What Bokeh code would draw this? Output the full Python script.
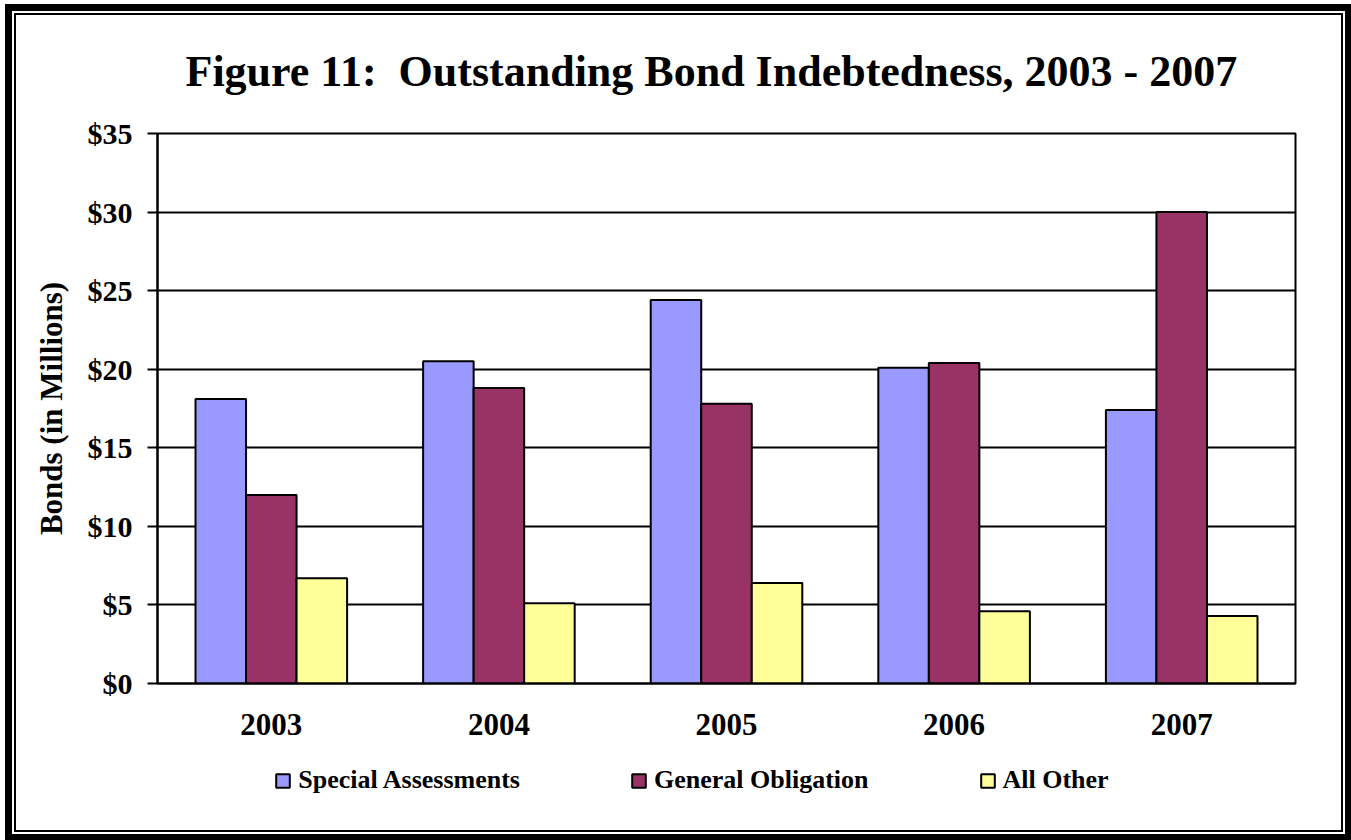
from bokeh.plotting import figure
from bokeh.layouts import column
from bokeh.models import (FactorRange, Range1d, FixedTicker, NumeralTickFormatter,
                          Legend, LegendItem, Label, ColumnDataSource)
from bokeh.transform import dodge
from bokeh.embed import file_html
from bokeh.resources import INLINE

# ---- data ----
years = ["2003", "2004", "2005", "2006", "2007"]
special_assessments = [18.1, 20.5, 24.4, 20.1, 17.4]
general_obligation = [12.0, 18.8, 17.8, 20.4, 30.0]
all_other = [6.7, 5.1, 6.4, 4.6, 4.3]
series_names = ["Special Assessments", "General Obligation", "All Other"]
y_ticks = [0, 5, 10, 15, 20, 25, 30, 35]
title_text = "Figure 11:\u00a0 Outstanding Bond Indebtedness, 2003 - 2007"
y_label = "Bonds (in Millions)"

# ---- layout: a column placed at page x=16, y=15 ----
W = 1325
H_TITLE, H_CHART, H_LEG = 90, 655, 70
FL, FR, FT, FB = 141, 46, 28, 77
FRAME_W = W - FL - FR
FONT = "Liberation Serif"
colors = ["#9999FF", "#993366", "#FFFF99"]
cols = ["sa", "go", "ao"]
bw = 0.222
offsets = [-bw, 0, bw]

src = ColumnDataSource(dict(year=years, sa=special_assessments,
                            go=general_obligation, ao=all_other))


def bare(height, x_range, y_range):
    f = figure(width=W, height=height, x_range=x_range, y_range=y_range,
               output_backend="svg", toolbar_location=None,
               x_axis_type=None, y_axis_type=None,
               min_border_left=FL, min_border_right=FR,
               min_border_top=0, min_border_bottom=0)
    f.title.visible = False
    f.outline_line_color = None
    f.xgrid.visible = False
    f.ygrid.visible = False
    f.background_fill_color = "white"
    f.border_fill_color = "white"
    return f


# ---- title strip ----
tf = bare(H_TITLE, Range1d(0, FRAME_W), Range1d(0, H_TITLE))
tf.add_layout(Label(x=28, y=34, text=title_text, text_font=FONT,
                    text_font_style="bold", text_font_size="44px",
                    text_color="black", text_align="left",
                    text_baseline="middle"))

# ---- main chart ----
xr = FactorRange(*years, range_padding=0, factor_padding=0)
p1 = figure(width=W, height=H_CHART, x_range=xr, y_range=Range1d(0, 35),
            output_backend="svg", toolbar_location=None,
            min_border_left=FL, min_border_right=FR,
            min_border_top=FT, min_border_bottom=FB)
p1.title.visible = False
p1.background_fill_color = "white"
p1.border_fill_color = "white"
p1.outline_line_color = "black"
p1.outline_line_width = 2

xa = p1.xaxis[0]
xa.major_label_text_font = FONT
xa.major_label_text_font_style = "bold"
xa.major_label_text_font_size = "31px"
xa.major_label_text_color = "black"
xa.major_tick_out = 0
xa.major_tick_in = 0
xa.minor_tick_out = 0
xa.axis_line_width = 2
xa.axis_line_color = "black"
xa.major_label_standoff = 30

ya = p1.yaxis[0]
ya.ticker = FixedTicker(ticks=y_ticks)
ya.formatter = NumeralTickFormatter(format="$0")
ya.major_label_text_font = FONT
ya.major_label_text_font_style = "bold"
ya.major_label_text_font_size = "30px"
ya.major_label_text_color = "black"
ya.major_tick_out = 10
ya.major_tick_in = 0
ya.major_tick_line_width = 2
ya.major_tick_line_color = "black"
ya.minor_tick_out = 0
ya.minor_tick_in = 0
ya.axis_line_width = 2
ya.axis_line_color = "black"
ya.major_label_standoff = 15
ya.axis_label = y_label
ya.axis_label_text_font = FONT
ya.axis_label_text_font_style = "bold"
ya.axis_label_text_font_size = "31px"
ya.axis_label_text_color = "black"
ya.axis_label_standoff = 16

p1.xgrid.visible = False
p1.ygrid.ticker = FixedTicker(ticks=y_ticks)
p1.ygrid.grid_line_color = "black"
p1.ygrid.grid_line_width = 2

for c, col, off in zip(colors, cols, offsets):
    p1.vbar(x=dodge("year", off, range=xr), top=col, width=bw, source=src,
            fill_color=c, line_color="black", line_width=2)

# ---- legend strip (same series; its own bars are hidden, only the key shows) ----
lf = bare(H_LEG, xr, Range1d(0, 35))
leg_renderers = []
for c, col, off in zip(colors, cols, offsets):
    r = lf.vbar(x=dodge("year", off, range=xr), top=col, width=bw, source=src,
                fill_color=c, line_color="black", line_width=2, visible=False)
    leg_renderers.append(r)

legend = Legend(items=[LegendItem(label=n, renderers=[r]) for n, r in zip(series_names, leg_renderers)],
                orientation="horizontal", location=(117.25, 35),
                border_line_color=None, background_fill_alpha=0,
                inactive_fill_alpha=0,
                padding=0, margin=0, spacing=110, label_standoff=7,
                glyph_width=17, glyph_height=17, label_height=30,
                label_text_font=FONT, label_text_font_style="bold",
                label_text_font_size="26px", label_text_color="black")
lf.add_layout(legend)

p = column(tf, p1, lf, spacing=0, width=W, height=H_TITLE + H_CHART + H_LEG,
           margin=(15, 0, 0, 16),
           styles={"box-shadow": "0 0 0 2px #000000, 0 0 0 4px #ffffff, 0 0 0 11px #000000"})

open("out.html", "w").write(file_html(p, INLINE))
